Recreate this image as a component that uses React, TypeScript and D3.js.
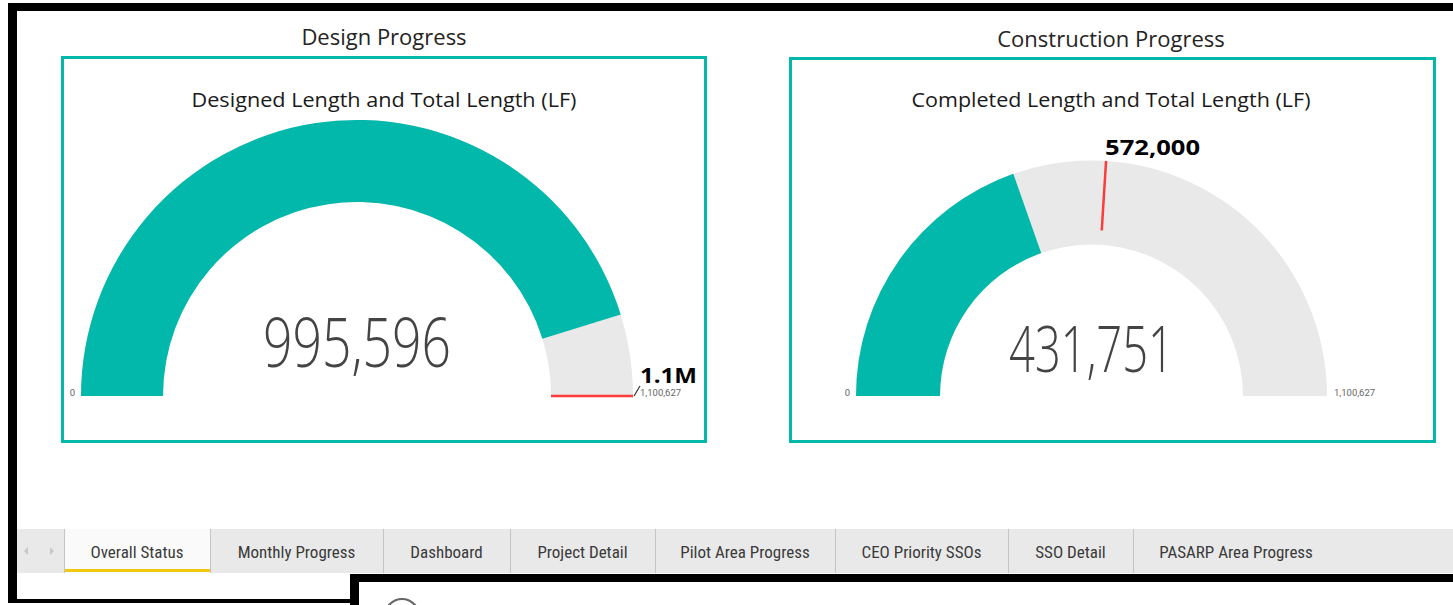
import React from "react";
import * as d3 from "d3";

// ---- data ----
const sectionTitles = ["Design Progress", "Construction Progress"];
const gaugeTitles = ["Designed Length and Total Length (LF)", "Completed Length and Total Length (LF)"];
const gaugeValues = [995596, 431751];
const gaugeMins = [0, 0];
const gaugeMaxes = [1100627, 1100627];
const gaugeTargets = [1100627, 572000];
const targetLabels = ["1.1M", "572,000"];
const tabLabels = [
  "Overall Status",
  "Monthly Progress",
  "Dashboard",
  "Project Detail",
  "Pilot Area Progress",
  "CEO Priority SSOs",
  "SSO Detail",
  "PASARP Area Progress",
];

// ---- layout / style ----
const W = 1453;
const H = 605;
const TEAL = "#01B8AA";
const BAND = "#e9e9e9";
const RED = "#fd3b3b";
const cards = [
  { x: 62.5, y: 57.5, w: 643, h: 384, titleX: 384, titleY: 45, subY: 107, subW: 385, cx: 357, cy: 396, rO: 276, rI: 194, valSize: 68, valY: 367, valW: 188 },
  { x: 790.5, y: 58.5, w: 644, h: 383, titleX: 1111, titleY: 47, subY: 107, subW: 399, cx: 1091.5, cy: 396, rO: 235.5, rI: 151.5, valSize: 64, valY: 372, valW: 165 },
];
const tabEdges = [64, 210, 383, 510, 655, 835, 1008, 1133, 1339];
const fmt = d3.format(",");

function Gauge({ i }: { i: number }) {
  const c = cards[i];
  const angle = d3.scaleLinear().domain([gaugeMins[i], gaugeMaxes[i]]).range([-Math.PI / 2, Math.PI / 2]);
  const arc = d3.arc<any>().innerRadius(c.rI).outerRadius(c.rO);
  const bg = arc({ startAngle: angle(gaugeMins[i]), endAngle: angle(gaugeMaxes[i]) } as any) || "";
  const fg = arc({ startAngle: angle(gaugeMins[i]), endAngle: angle(gaugeValues[i]) } as any) || "";
  const ta = angle(gaugeTargets[i]);
  const rStart = c.rO - (c.rO - c.rI) * (i === 0 ? 1 : 0.83);
  const tx1 = c.cx + rStart * Math.sin(ta);
  const ty1 = c.cy - rStart * Math.cos(ta);
  const tx2 = c.cx + c.rO * Math.sin(ta);
  const ty2 = c.cy - c.rO * Math.cos(ta);
  return (
    <g>
      <text x={c.titleX} y={c.titleY} textAnchor="middle" fontFamily="'Open Sans', 'Noto Sans', sans-serif" fontSize={22} fill="#252423">
        {sectionTitles[i]}
      </text>
      <rect x={c.x} y={c.y} width={c.w} height={c.h} fill="#fff" stroke={TEAL} strokeWidth={3} />
      <text
        x={c.titleX}
        y={c.subY}
        textAnchor="middle"
        fontFamily="'Open Sans', 'Noto Sans', sans-serif"
        fontSize={19.5}
        fill="#1a1a1a"
        textLength={c.subW}
        lengthAdjust="spacingAndGlyphs"
      >
        {gaugeTitles[i]}
      </text>
      <g transform={`translate(${c.cx},${c.cy})`}>
        <path d={bg} fill={BAND} />
        <path d={fg} fill={TEAL} />
      </g>
      <line x1={tx1} y1={ty1} x2={tx2} y2={ty2} stroke={RED} strokeWidth={2.5} />
      {i === 0 ? (
        <g>
          <line x1={tx2 + 1} y1={ty2} x2={tx2 + 7} y2={ty2 - 10} stroke="#333" strokeWidth={1.2} />
          <text x={tx2 + 7} y={ty2 - 13} fontFamily="'Open Sans', Arial, sans-serif" fontWeight="bold" fontSize={22} fill="#000" textLength={57} lengthAdjust="spacingAndGlyphs">
            {targetLabels[i]}
          </text>
        </g>
      ) : (
        <text x={tx2 - 1} y={ty2 - 6} fontFamily="'Open Sans', Arial, sans-serif" fontWeight="bold" fontSize={21} fill="#000" textLength={95} lengthAdjust="spacingAndGlyphs">
          {targetLabels[i]}
        </text>
      )}
      <text x={c.cx - c.rO - 6} y={c.cy} textAnchor="end" fontFamily="'Roboto', sans-serif" fontSize={9.5} fill="#666">
        {fmt(gaugeMins[i])}
      </text>
      <text x={c.cx + c.rO + 7} y={c.cy} fontFamily="'Roboto', sans-serif" fontSize={9.5} fill="#666">
        {fmt(gaugeMaxes[i])}
      </text>
      <text
        x={c.cx}
        y={c.valY}
        textAnchor="middle"
        fontFamily="'Open Sans', 'Lato', sans-serif"
        fontWeight={300}
        fontSize={c.valSize}
        fill="#444"
        textLength={c.valW}
        lengthAdjust="spacingAndGlyphs"
      >
        {fmt(gaugeValues[i])}
      </text>
    </g>
  );
}

export default function App() {
  return (
    <svg width={W} height={H} style={{ position: "absolute", left: 0, top: 0, background: "#fff" }}>
      <rect x={0} y={0} width={W} height={H} fill="#fff" />
      {/* outer black frame */}
      <rect x={8} y={3} width={W - 8} height={8} fill="#000" />
      <rect x={8} y={3} width={9} height={600} fill="#000" />
      <rect x={8} y={599} width={351} height={4} fill="#000" />
      <rect x={350} y={574} width={W - 350} height={8} fill="#000" />
      <rect x={350} y={574} width={9} height={H - 574} fill="#000" />
      <circle cx={402} cy={616} r={17} fill="none" stroke="#666" strokeWidth={2} />

      {[0, 1].map((i) => (
        <Gauge key={i} i={i} />
      ))}

      {/* tab bar */}
      <rect x={17} y={529} width={W - 17} height={44} fill="#e9e9e9" />
      <path d="M28,547 L24,551 L28,555 Z" fill="#c8c8c8" />
      <path d="M50,547 L54,551 L50,555 Z" fill="#c8c8c8" />
      <rect x={tabEdges[0]} y={529} width={tabEdges[1] - tabEdges[0]} height={44} fill="#fafafa" />
      <rect x={tabEdges[0]} y={569} width={tabEdges[1] - tabEdges[0]} height={3} fill="#f2c80f" />
      {tabEdges.slice(0, -1).map((e, k) => (
        <line key={k} x1={e + 0.5} y1={529} x2={e + 0.5} y2={573} stroke="#c4c4c4" strokeWidth={1} />
      ))}
      {tabLabels.map((t, k) => (
        <text
          key={t}
          x={(tabEdges[k] + tabEdges[k + 1]) / 2}
          y={558}
          textAnchor="middle"
          fontFamily="'Liberation Sans Narrow', 'Roboto Condensed', 'Noto Sans', sans-serif"
          fontSize={17}
          fill="#3a3a3a"
        >
          {t}
        </text>
      ))}
    </svg>
  );
}
